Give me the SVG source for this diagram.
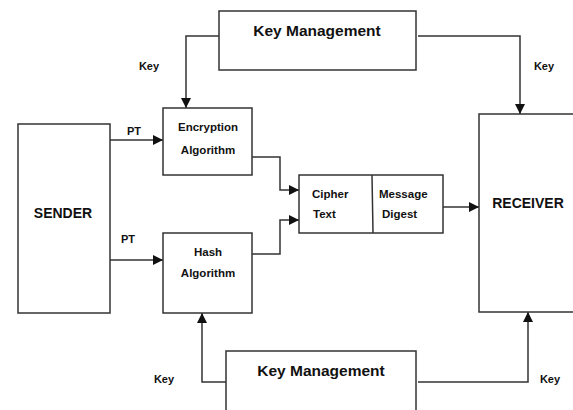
<svg xmlns="http://www.w3.org/2000/svg" width="573" height="410" viewBox="0 0 573 410">
<defs>
<marker id="arr" markerUnits="userSpaceOnUse" markerWidth="10" markerHeight="10" refX="10" refY="5" orient="auto">
<path d="M0,0 L10,5 L0,10 z" fill="#111"/>
</marker>
<style>
.box{fill:#fff;stroke:#333;stroke-width:1.5}
.ln{fill:none;stroke:#333;stroke-width:1.5;marker-end:url(#arr)}
text{font-family:"Liberation Sans",Arial,sans-serif;font-weight:bold;fill:#111}
.big{font-size:15.5px}
.mid{font-size:14px}
.sm{font-size:11.5px}
.lab{font-size:11px}
</style>
</defs>
<rect width="573" height="410" fill="#fff"/>
<g id="connectors">
<path class="ln" d="M219,36 H186 V108"/>
<path class="ln" d="M418,36 H520 V114"/>
<path class="ln" d="M110,140 H163"/>
<path class="ln" d="M110,260 H163"/>
<path class="ln" d="M252,157 H280 V190 H299"/>
<path class="ln" d="M252,254 H280 V220 H299"/>
<path class="ln" d="M443,207 H479"/>
<path class="ln" d="M226,382 H202 V313"/>
<path class="ln" d="M418,382 H528 V312"/>
<text class="lab" x="149" y="70" text-anchor="middle">Key</text>
<text class="lab" x="544" y="70" text-anchor="middle">Key</text>
<text class="lab" x="134" y="135" text-anchor="middle">PT</text>
<text class="lab" x="128" y="243" text-anchor="middle">PT</text>
<text class="lab" x="164" y="383" text-anchor="middle">Key</text>
<text class="lab" x="550" y="383" text-anchor="middle">Key</text>
</g>
<g id="km-top">
<rect class="box" x="219" y="11" width="197" height="59"/>
<text class="big" x="317" y="36" text-anchor="middle">Key Management</text>
</g>
<g id="sender">
<rect class="box" x="18" y="124" width="92" height="189"/>
<text class="mid" x="63" y="218" text-anchor="middle">SENDER</text>
</g>
<g id="encryption">
<rect class="box" x="163" y="108" width="89" height="67"/>
<text class="sm" x="208" y="131" text-anchor="middle">Encryption</text>
<text class="sm" x="208" y="154" text-anchor="middle">Algorithm</text>
</g>
<g id="hash">
<rect class="box" x="163" y="233" width="89" height="80"/>
<text class="sm" x="208" y="256" text-anchor="middle">Hash</text>
<text class="sm" x="208" y="277" text-anchor="middle">Algorithm</text>
</g>
<g id="cipher-digest">
<rect class="box" x="299" y="175" width="144" height="58"/>
<line x1="372" y1="175" x2="373" y2="233" stroke="#333" stroke-width="1.5"/>
<text class="sm" x="312" y="198">Cipher</text>
<text class="sm" x="313" y="218">Text</text>
<text class="sm" x="379" y="198">Message</text>
<text class="sm" x="382" y="218">Digest</text>
</g>
<g id="receiver">
<rect class="box" x="479" y="114" width="100" height="198"/>
<text class="mid" x="528" y="208" text-anchor="middle">RECEIVER</text>
</g>
<g id="km-bottom">
<rect class="box" x="226" y="351" width="190" height="70"/>
<text class="big" x="321" y="376" text-anchor="middle">Key Management</text>
</g>
</svg>
